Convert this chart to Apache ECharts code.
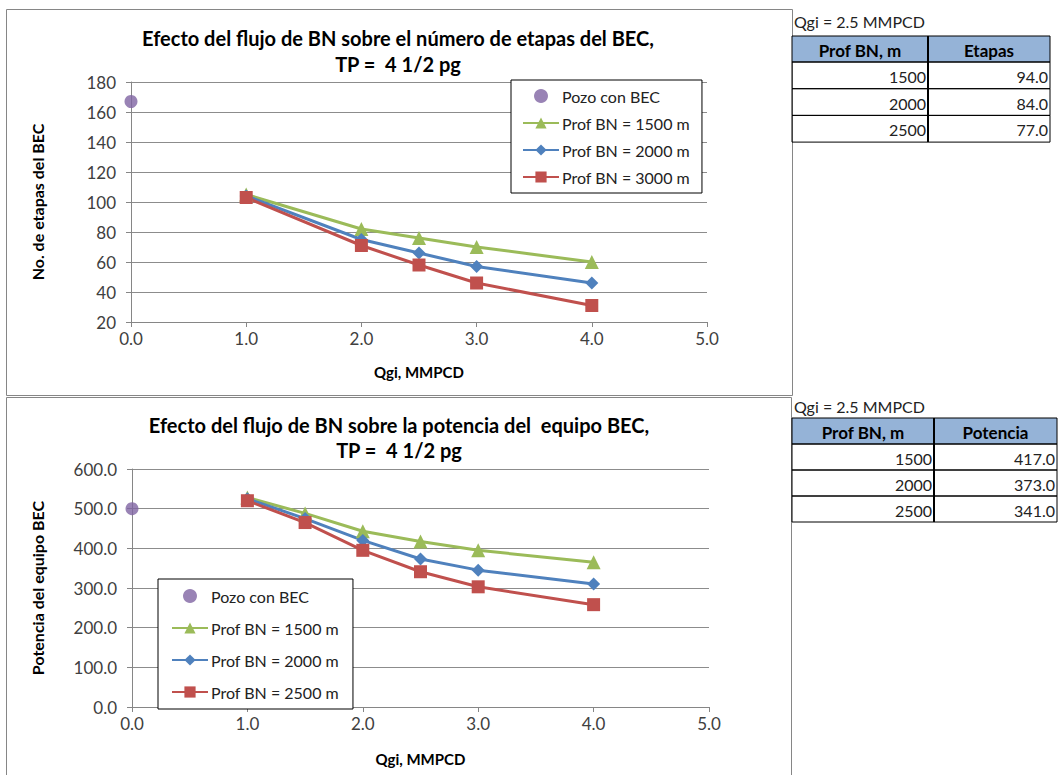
<!DOCTYPE html>
<html>
<head>
<meta charset="utf-8">
<script src="https://cdn.jsdelivr.net/npm/echarts@6/dist/echarts.min.js"></script>
<style>
html,body{margin:0;padding:0;background:#fff;}
#c{width:1058px;height:775px;}
</style>
</head>
<body>
<div id="c"></div>
<script>
// ---- Data ----
const topTitle = "Efecto del flujo de BN sobre el número de etapas del BEC,\nTP =  4 1/2 pg";
const botTitle = "Efecto del flujo de BN sobre la potencia del  equipo BEC,\nTP =  4 1/2 pg";
const xName = "Qgi, MMPCD";
const topYName = "No. de etapas del BEC";
const botYName = "Potencia del equipo BEC";

const topPozoX = [0.0];
const topPozoY = [167];
const topX = [1.0, 2.0, 2.5, 3.0, 4.0];
const top1500 = [105, 82, 76, 70, 60];
const top2000 = [104, 75, 66, 57, 46];
const top3000 = [103, 71, 58, 46, 31];
const topNames = ["Pozo con BEC", "Prof BN = 1500 m", "Prof BN = 2000 m", "Prof BN = 3000 m"];

const botPozoX = [0.0];
const botPozoY = [500];
const botX = [1.0, 1.5, 2.0, 2.5, 3.0, 4.0];
const bot1500 = [528, 488, 443, 417, 395, 365];
const bot2000 = [525, 475, 420, 373, 345, 310];
const bot2500 = [520, 465, 395, 341, 303, 258];
const botNames = ["Pozo con BEC", "Prof BN = 1500 m", "Prof BN = 2000 m", "Prof BN = 2500 m"];

const tblCaption = "Qgi = 2.5 MMPCD";
const tblProf = [1500, 2000, 2500];
const tbl1Header = ["Prof BN, m", "Etapas"];
const tbl1Vals = [94.0, 84.0, 77.0];
const tbl2Header = ["Prof BN, m", "Potencia"];
const tbl2Vals = [417.0, 373.0, 341.0];

// ---- Styles ----
const FONT = "Lato, 'Open Sans', sans-serif";
const C_PURPLE = "#8064A2", C_GREEN = "#9BBB59", C_BLUE = "#4F81BD", C_RED = "#C0504D";
const zip = (xs, ys) => xs.map((x, i) => [x, ys[i]]);

function lineSeries(name, xi, yi, xs, ys, color, symbol, size) {
  return {
    name, type: 'line', xAxisIndex: xi, yAxisIndex: yi,
    data: zip(xs, ys), symbol, symbolSize: size,
    lineStyle: {color, width: 3}, itemStyle: {color},
    emphasis: {disabled: true}, animation: false
  };
}

function axisX(gi, nameGap) {
  return {
    type: 'value', gridIndex: gi, min: 0, max: 5, interval: 1,
    name: xName, nameLocation: 'middle', nameGap,
    nameTextStyle: {fontFamily: FONT, fontWeight: 'bold', fontSize: 15, color: '#000'},
    axisLine: {show: true, lineStyle: {color: '#868686', width: 1}},
    axisTick: {show: true, length: 5, lineStyle: {color: '#868686'}},
    axisLabel: {fontFamily: FONT, fontSize: 17, color: '#404040', margin: 8,
      formatter: v => v.toFixed(1)},
    splitLine: {show: false}
  };
}
function axisY(gi, min, max, interval, name, fmt, nameGap) {
  return {
    type: 'value', gridIndex: gi, min, max, interval,
    name, nameLocation: 'middle', nameGap,
    nameTextStyle: {fontFamily: FONT, fontWeight: 'bold', fontSize: 16, color: '#000'},
    axisLine: {show: true, lineStyle: {color: '#868686', width: 1}},
    axisTick: {show: true, length: 5, lineStyle: {color: '#868686'}},
    axisLabel: {fontFamily: FONT, fontSize: 17, color: '#404040', margin: 15, formatter: fmt},
    splitLine: {show: true, lineStyle: {color: '#8c8c8c', width: 1}}
  };
}

// ---- Tables (graphic) ----
function table(x0, xDiv, x1, yCap, yHead, rowH, headH, header, vals, fmtVal) {
  const els = [];
  els.push({type: 'text', x: x0 + 2, y: yCap, style: {text: tblCaption, font: `16px ${FONT}`, fill: '#222', textVerticalAlign: 'middle'}});
  els.push({type: 'rect', shape: {x: x0, y: yHead, width: x1 - x0, height: headH},
    style: {fill: '#95B3D7', stroke: '#000', lineWidth: 1}});
  els.push({type: 'text', x: (x0 + xDiv) / 2, y: yHead + headH / 2 + 1, style: {text: header[0], font: `bold 17px ${FONT}`, fill: '#000', textAlign: 'center', textVerticalAlign: 'middle'}});
  els.push({type: 'text', x: (xDiv + x1) / 2, y: yHead + headH / 2 + 1, style: {text: header[1], font: `bold 17px ${FONT}`, fill: '#000', textAlign: 'center', textVerticalAlign: 'middle'}});
  vals.forEach((v, i) => {
    const y = yHead + headH + i * rowH;
    els.push({type: 'rect', shape: {x: x0, y, width: x1 - x0, height: rowH}, style: {fill: 'none', stroke: '#000', lineWidth: 1}});
    els.push({type: 'text', x: xDiv - 2, y: y + rowH / 2 + 1, style: {text: String(tblProf[i]), font: `16px ${FONT}`, fill: '#222', textAlign: 'right', textVerticalAlign: 'middle'}});
    els.push({type: 'text', x: x1 - 2, y: y + rowH / 2 + 1, style: {text: fmtVal(v), font: `16px ${FONT}`, fill: '#222', textAlign: 'right', textVerticalAlign: 'middle'}});
  });
  els.push({type: 'line', shape: {x1: xDiv, y1: yHead, x2: xDiv, y2: yHead + headH + rowH * vals.length}, style: {stroke: '#000', lineWidth: 2}});
  return els;
}

const graphics = [
  {type: 'rect', shape: {x: 6.5, y: 9.5, width: 786, height: 386}, style: {fill: 'none', stroke: '#868686', lineWidth: 1}, z: -10},
  {type: 'rect', shape: {x: 6.5, y: 397.5, width: 785, height: 400}, style: {fill: 'none', stroke: '#868686', lineWidth: 1}, z: -10},
  {type: 'text', x: 398, y: 51, style: {text: topTitle, font: `bold 20px ${FONT}`, fill: '#000', textAlign: 'center', textVerticalAlign: 'middle', lineHeight: 26}},
  {type: 'text', x: 399, y: 437, style: {text: botTitle, font: `bold 20px ${FONT}`, fill: '#000', textAlign: 'center', textVerticalAlign: 'middle', lineHeight: 25}},
  ...table(792, 928, 1050, 21, 36, 26.7, 26, tbl1Header, tbl1Vals, v => v.toFixed(1)),
  ...table(792, 934, 1057, 406, 418, 26, 26, tbl2Header, tbl2Vals, v => v.toFixed(1))
];

const legendCommon = {
  orient: 'vertical', backgroundColor: '#fff', borderColor: '#000', borderWidth: 1,
  itemWidth: 36, itemHeight: 14, selectedMode: false,
  textStyle: {fontFamily: FONT, fontSize: 16, color: '#222', padding: [0, 0, 0, -2]}
};

const option = {
  animation: false,
  backgroundColor: '#fff',
  grid: [
    {left: 131, top: 82, width: 576, height: 240},
    {left: 132, top: 469, width: 577, height: 238}
  ],
  xAxis: [axisX(0, 42), axisX(1, 44)],
  yAxis: [
    axisY(0, 20, 180, 20, topYName, v => String(v), 86),
    axisY(1, 0, 600, 100, botYName, v => v.toFixed(1), 87)
  ],
  legend: [
    Object.assign({}, legendCommon, {data: topNames, left: 511, top: 80, itemGap: 11, padding: [8, 12, 8, 11]}),
    Object.assign({}, legendCommon, {data: botNames, left: 158, top: 579, itemGap: 16, padding: [9, 14, 9, 13]})
  ],
  graphic: graphics,
  series: [
    {name: topNames[0], type: 'scatter', xAxisIndex: 0, yAxisIndex: 0, data: zip(topPozoX, topPozoY), symbol: 'circle', symbolSize: 13, itemStyle: {color: C_PURPLE}, emphasis: {disabled: true}},
    lineSeries(topNames[1], 0, 0, topX, top1500, C_GREEN, 'triangle', 14),
    lineSeries(topNames[2], 0, 0, topX, top2000, C_BLUE, 'diamond', 13),
    lineSeries(topNames[3], 0, 0, topX, top3000, C_RED, 'rect', 13),
    {name: botNames[0], type: 'scatter', xAxisIndex: 1, yAxisIndex: 1, data: zip(botPozoX, botPozoY), symbol: 'circle', symbolSize: 13, itemStyle: {color: C_PURPLE}, emphasis: {disabled: true}},
    lineSeries(botNames[1], 1, 1, botX, bot1500, C_GREEN, 'triangle', 14),
    lineSeries(botNames[2], 1, 1, botX, bot2000, C_BLUE, 'diamond', 13),
    lineSeries(botNames[3], 1, 1, botX, bot2500, C_RED, 'rect', 13)
  ]
};

const chart = echarts.init(document.getElementById('c'), null, {renderer: 'svg', width: 1058, height: 775});
chart.setOption(option);
</script>
</body>
</html>
